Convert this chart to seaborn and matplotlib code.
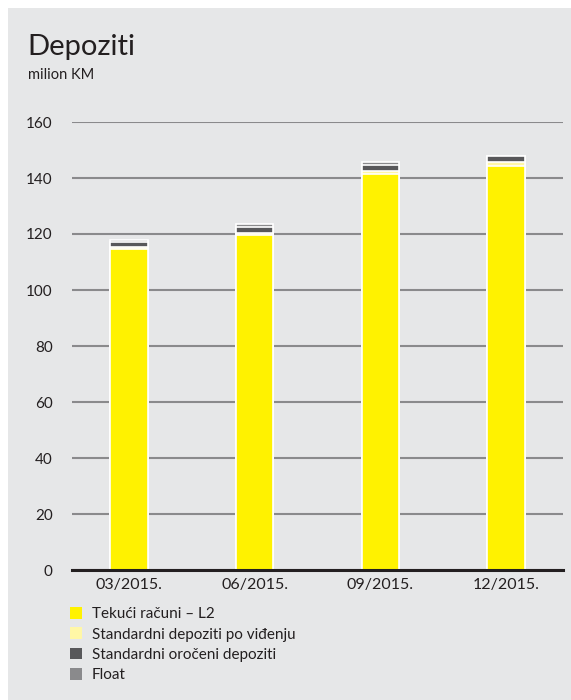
import pandas as pd
import numpy as np
import matplotlib
matplotlib.use('Agg')
import matplotlib.pyplot as plt
from matplotlib.patches import Rectangle, Patch
import seaborn as sns

# podaci (milion KM)
periodi = ['03/2015.', '06/2015.', '09/2015.', '12/2015.']
tekuci = [114.6, 119.8, 141.6, 144.3]
vidjenje = [0.6, 0.7, 0.9, 1.5]
oroceni = [1.8, 2.0, 2.0, 1.9]
float_ = [0.8, 1.2, 1.2, 0.2]

serije = ['Tekući računi – L2', 'Standardni depoziti po viđenju',
          'Standardni oročeni depoziti', 'Float']
boje = ['#fff200', '#fff7a6', '#58585a', '#8a8a8c']

df = pd.DataFrame({'period': periodi, 'tekuci': tekuci, 'vidjenje': vidjenje,
                   'oroceni': oroceni, 'float': float_})
df['c1'] = df['tekuci']
df['c2'] = df['c1'] + df['vidjenje']
df['c3'] = df['c2'] + df['oroceni']
df['c4'] = df['c3'] + df['float']

sns.set_style('white')
plt.rcParams['font.family'] = ['Lato', 'DejaVu Sans']

bg = '#e6e7e8'
fig = plt.figure(figsize=(5.71, 7.0), dpi=100)
fig.patch.set_facecolor('white')
fig.patches.append(Rectangle((8/571, 0), 1, 1 - 8/700, transform=fig.transFigure,
                             facecolor=bg, edgecolor='none', zorder=-10))

ax = fig.add_axes([72/571, 1 - 570/700, (563 - 72)/571, (570 - 122)/700])
ax.set_facecolor('none')

# slaganje: kumulativni zbirovi od najvećeg prema najmanjem
for col, c in zip(['c4', 'c3', 'c2', 'c1'], boje[::-1]):
    sns.barplot(data=df, x='period', y=col, color=c, width=0.3, ax=ax,
                edgecolor='white', linewidth=1.2, saturation=1, zorder=3)

ax.set_ylim(0, 160)
ax.set_xlim(-0.45, 3.45)
ax.set_yticks(np.arange(0, 161, 20))
ax.yaxis.grid(True, color='#8a8a8c', linewidth=1.5)
ax.set_axisbelow(True)
for s in ['top', 'right', 'left']:
    ax.spines[s].set_visible(False)
ax.spines['bottom'].set_color('#231f20')
ax.spines['bottom'].set_linewidth(2.2)
ax.spines['bottom'].set_zorder(4)
ax.tick_params(axis='y', length=0, pad=14, labelsize=11, labelcolor='#231f20')
ax.tick_params(axis='x', length=0, pad=6, labelsize=11.5, labelcolor='#231f20')
ax.set_xlabel('')
ax.set_ylabel('')

fig.text(27/571, 1 - 55/700, 'Depoziti', fontsize=21, color='#231f20')
fig.text(28/571, 1 - 79/700, 'milion KM', fontsize=10.5, color='#231f20')

handles = [Patch(facecolor=c, edgecolor='none') for c in boje]
fig.legend(handles, serije, loc='upper left', bbox_to_anchor=(64/571, 1 - 601/700),
           frameon=False, fontsize=11, handlelength=0.8, handleheight=0.8,
           handletextpad=0.6, labelspacing=0.4, borderaxespad=0, labelcolor='#231f20')

fig.savefig('out.png', dpi=100, facecolor=fig.get_facecolor())
